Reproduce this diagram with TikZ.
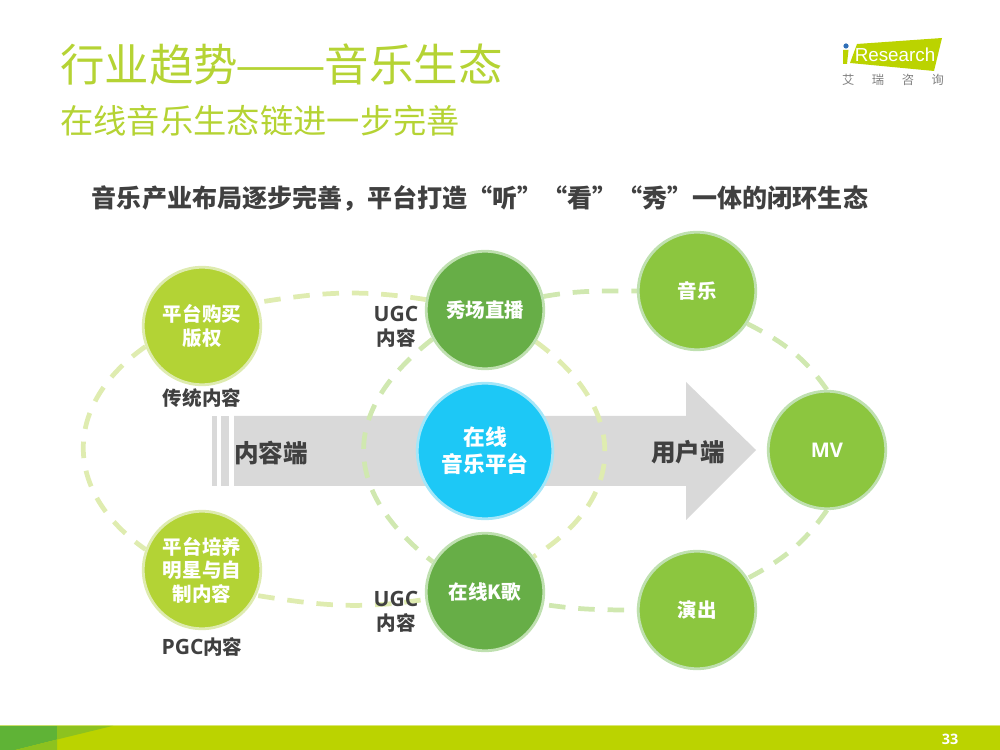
\documentclass[tikz,border=0pt]{standalone}
\usepackage{fontspec}
\usepackage{graphicx}
\setmainfont{Noto Sans CJK SC}
\newfontfamily\latn{Open Sans}
\newfontfamily\logofont{Liberation Sans}
\usetikzlibrary{backgrounds}
\definecolor{titlelime}{HTML}{B5D334}
\definecolor{textgray}{HTML}{404040}
\definecolor{arrowgray}{HTML}{D9D9D9}
\definecolor{limefill}{HTML}{B3D335}
\definecolor{limering}{HTML}{DEEBB0}
\definecolor{darkfill}{HTML}{67AE47}
\definecolor{darkring}{HTML}{BFE0B0}
\definecolor{midfill}{HTML}{8CC63F}
\definecolor{bluefill}{HTML}{1DC8F6}
\definecolor{bluering}{HTML}{A5E6F8}
\definecolor{dashlime}{HTML}{DFECB0}
\definecolor{dashgreen}{HTML}{D0E8B0}
\definecolor{footlime}{HTML}{BBD300}
\definecolor{footdark}{HTML}{5FB336}
\definecolor{footmid}{HTML}{8DC21F}
\definecolor{logoblue}{HTML}{2F6FB7}
\begin{document}
\begin{tikzpicture}[x=0.02cm,y=0.02cm]

% Style for nodes
\tikzstyle{ball}=[circle,minimum size=2.35cm,inner sep=0,line width=1.6pt,text=white,align=center,font=\fontsize{11.1}{13.4}\selectfont\bfseries]
\tikzstyle{limeball}=[ball,fill=limefill,draw=limering]
\tikzstyle{darkball}=[ball,fill=darkfill,draw=darkring]
\tikzstyle{midball}=[ball,fill=midfill,draw=darkring]
\tikzstyle{hubball}=[ball,minimum size=2.71cm,fill=bluefill,draw=bluering,font=\fontsize{12.4}{15.4}\selectfont\bfseries]
\tikzstyle{note}=[text=textgray,align=center,inner sep=0,font=\fontsize{11.1}{13.5}\selectfont\bfseries]
\tikzstyle{side}=[text=textgray,inner sep=0,font=\fontsize{14}{16}\selectfont\bfseries]
% Style for the dashed rings
\tikzstyle{ringlime}=[draw=dashlime,line width=2.7pt,dash pattern=on 9.4pt off 7.3pt]
\tikzstyle{ringgreen}=[draw=dashgreen,line width=2.7pt,dash pattern=on 9.4pt off 7.3pt]

\useasboundingbox (0,0) rectangle (1000,750);

% Titles
\node(title)[anchor=west,inner sep=0,text=titlelime,font=\fontsize{25.3}{30}\selectfont] at (60,685){行业趋势\hspace{-1.5pt}\scalebox{1.22}[1]{——}\hspace{-1pt}音乐生态};
\node(subtitle)[anchor=west,inner sep=0,text=titlelime,font=\fontsize{18.95}{23}\selectfont] at (60,629){在线音乐生态链进一步完善};
\node(headline)[inner sep=0,text=textgray,font=\fontsize{14.25}{17}\selectfont\bfseries] at (480,552){音乐产业布局逐步完善，平台打造“听”“看”“秀”一体的闭环生态};

% Logo
\fill[footlime] (857,706) -- (942,712) -- (934,679) -- (850,687) -- cycle;
\fill[footlime] (843,700) -- (848.5,700) -- (847,686) -- (843,686) -- cycle;
\fill[logoblue] (846,704) circle (2.6);
\node(logo)[inner sep=0,text=white,font=\logofont\fontsize{10.7}{13}\selectfont] at (895,695){Research};
\node(logosub)[inner sep=0,text=gray,font=\fontsize{7}{8}\selectfont] at (893,670){艾\hspace{10pt}瑞\hspace{10pt}咨\hspace{10pt}询};

% The Circles
\node(buy)[limeball] at (202,424){平台购买\\版权};
\node(train)[limeball] at (202,180){平台培养\\明星与自\\制内容};
\node(show)[darkball] at (485,440){秀场直播};
\node(karaoke)[darkball] at (485,158){在线K歌};
\node(hub)[hubball] at (485,299){在线\\音乐平台};
\node(music)[midball] at (697,459){音乐};
\node(mv)[midball,font=\latn\fontsize{11.5}{14}\selectfont\bfseries] at (827,300){MV};
\node(live)[midball] at (697,140){演出};

% Labels
\node(buynote)[note] at (202,352){传统内容};
\node(trainnote)[note] at (202,103){{\latn\fontsize{12}{13.5}\selectfont PGC}内容};
\node(shownote)[note] at (396,423){{\latn\fontsize{12}{13.5}\selectfont UGC}\\内容};
\node(karaokenote)[note] at (396,138){{\latn\fontsize{12}{13.5}\selectfont UGC}\\内容};
\node(source)[side] at (271,297){内容端};
\node(user)[side] at (688,298){用户端};

\begin{scope}[on background layer]
% The Arrow
\fill[arrowgray] (234,334) -- (686,334) -- (686,368) -- (756,300) -- (686,230) -- (686,264) -- (234,264) -- cycle;
\fill[arrowgray] (212,264) rectangle (216.7,334);
\fill[arrowgray] (220.7,264) rectangle (229.3,334);
% The Rings
\draw[ringlime] (buy.200) to[out=215,in=145,looseness=1.28] (train.160);
\draw[ringlime,shorten <=4pt] (buy.23) to[out=9,in=171] (show.170);
\draw[ringlime,shorten <=1pt] (train.335) to[out=-9,in=189] (karaoke.187);
\draw[ringgreen] (show.209) to[out=218,in=142,looseness=1.34] (karaoke.150);
\draw[ringlime] (show.328) to[out=-36,in=32,looseness=1.34] (karaoke.36);
\draw[ringgreen] (show.13) to[out=10,in=180] (music.180);
\draw[ringgreen] (music.327) to[out=-27,in=125] (mv.90);
\draw[ringgreen] (mv.270) to[out=235,in=28] (live.32);
\draw[ringgreen,shorten <=3pt] (karaoke.348) to[out=-8,in=180] (live.180);
\end{scope}

% Footer
\fill[footlime] (0,0) rectangle (1000,25);
\fill[footlime!55] (0,24.2) rectangle (1000,25);
\fill[footdark] (0,24.2) -- (57,24.2) -- (57,10.5) -- (15,0) -- (0,0) -- cycle;
\fill[footmid] (57,24.2) -- (113,24.2) -- (57,10.5) -- cycle;
\fill[footmid] (57,10.5) -- (15,0) -- (57,0) -- cycle;
\node(page)[inner sep=0,text=white,font=\latn\fontsize{8.2}{10}\selectfont\bfseries] at (950,11){33};
\end{tikzpicture}
\end{document}
